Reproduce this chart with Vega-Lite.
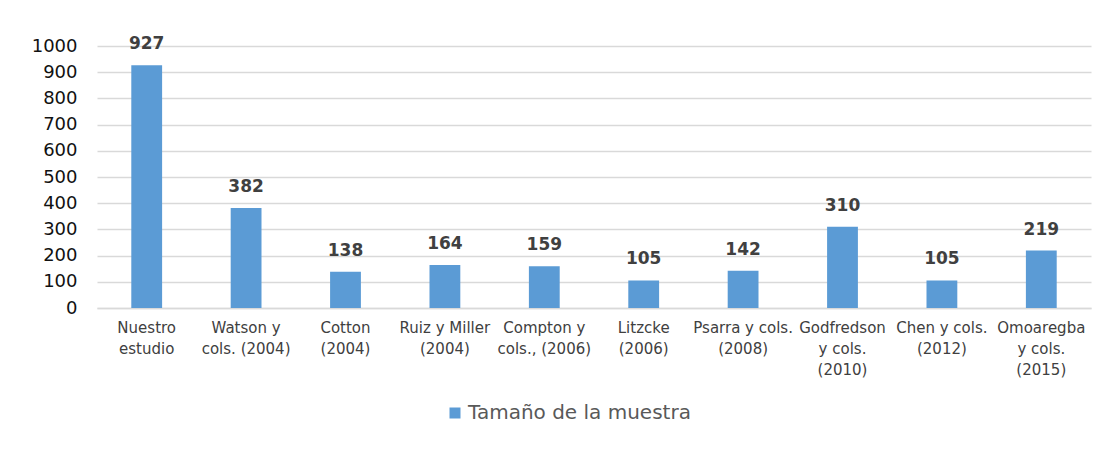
{
  "$schema": "https://vega.github.io/schema/vega-lite/v6.json",
  "width": 994,
  "height": 262,
  "autosize": {"type": "none"},
  "padding": {"left": 97, "top": 46, "right": 21, "bottom": 142},
  "background": "white",
  "config": {
    "view": {"stroke": null},
    "font": "DejaVu Sans"
  },
  "data": {
    "values": [
      {"estudio": "Nuestro estudio", "serie": "Tamaño de la muestra", "n": 927},
      {"estudio": "Watson y cols. (2004)", "serie": "Tamaño de la muestra", "n": 382},
      {"estudio": "Cotton (2004)", "serie": "Tamaño de la muestra", "n": 138},
      {"estudio": "Ruiz y Miller (2004)", "serie": "Tamaño de la muestra", "n": 164},
      {"estudio": "Compton y cols., (2006)", "serie": "Tamaño de la muestra", "n": 159},
      {"estudio": "Litzcke (2006)", "serie": "Tamaño de la muestra", "n": 105},
      {"estudio": "Psarra y cols. (2008)", "serie": "Tamaño de la muestra", "n": 142},
      {"estudio": "Godfredson y cols. (2010)", "serie": "Tamaño de la muestra", "n": 310},
      {"estudio": "Chen y cols. (2012)", "serie": "Tamaño de la muestra", "n": 105},
      {"estudio": "Omoaregba y cols. (2015)", "serie": "Tamaño de la muestra", "n": 219}
    ]
  },
  "encoding": {
    "x": {
      "field": "estudio",
      "type": "nominal",
      "sort": null,
      "scale": {"paddingInner": 0.69, "paddingOuter": 0.345},
      "axis": {
        "title": null,
        "labelAngle": 0,
        "ticks": false,
        "domainColor": "#d9d9d9",
        "domainWidth": 1.5,
        "labelColor": "#404040",
        "labelFontSize": 15,
        "labelLineHeight": 21,
        "labelPadding": 12,
        "labelBaseline": "top",
        "labelLimit": 0,
        "labelExpr": "({'Nuestro estudio':['Nuestro','estudio'],'Watson y cols. (2004)':['Watson y','cols. (2004)'],'Cotton (2004)':['Cotton','(2004)'],'Ruiz y Miller (2004)':['Ruiz y Miller','(2004)'],'Compton y cols., (2006)':['Compton y','cols., (2006)'],'Litzcke (2006)':['Litzcke','(2006)'],'Psarra y cols. (2008)':['Psarra y cols.','(2008)'],'Godfredson y cols. (2010)':['Godfredson','y cols.','(2010)'],'Chen y cols. (2012)':['Chen y cols.','(2012)'],'Omoaregba y cols. (2015)':['Omoaregba','y cols.','(2015)']})[datum.value]"
      }
    },
    "y": {
      "field": "n",
      "type": "quantitative",
      "scale": {"domain": [0, 1000]},
      "axis": {
        "title": null,
        "values": [0, 100, 200, 300, 400, 500, 600, 700, 800, 900, 1000],
        "format": "d",
        "domain": false,
        "ticks": false,
        "gridColor": "#d9d9d9",
        "gridWidth": 1.5,
        "labelColor": "#111111",
        "labelFontSize": 18,
        "labelPadding": 20
      }
    }
  },
  "layer": [
    {
      "mark": {"type": "bar", "color": "#5B9BD5"},
      "encoding": {
        "color": {
          "field": "serie",
          "type": "nominal",
          "scale": {"range": ["#5B9BD5"]},
          "legend": {
            "title": null,
            "orient": "none",
            "legendX": 348,
            "legendY": 357,
            "symbolType": "square",
            "symbolSize": 121,
            "symbolStrokeWidth": 0,
            "labelFontSize": 20,
            "labelColor": "#595959",
            "labelOffset": 3,
            "labelLimit": 0
          }
        }
      }
    },
    {
      "mark": {"type": "text", "fontWeight": "bold", "fontSize": 17, "color": "#404040", "baseline": "alphabetic", "dy": -16},
      "encoding": {"text": {"field": "n", "type": "quantitative"}}
    }
  ]
}
